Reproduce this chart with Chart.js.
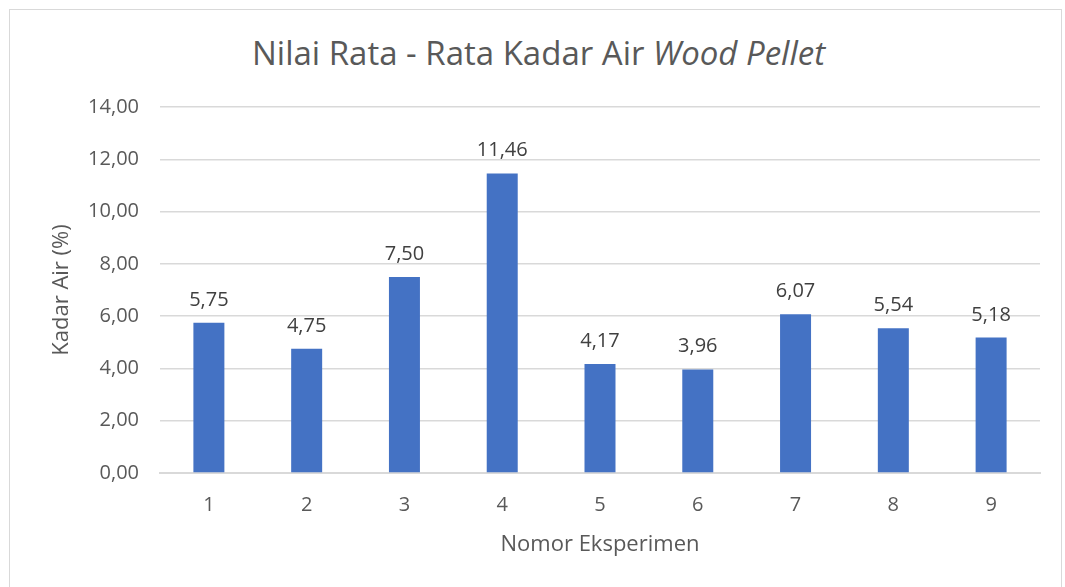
<!DOCTYPE html>
<html>
<head>
<meta charset="utf-8">
<script src="https://cdn.jsdelivr.net/npm/chart.js@4/dist/chart.umd.min.js"></script>
<style>
  body { margin: 0; background: #fff; }
  #wrap { position: relative; width: 1065px; height: 587px; }
  #frame { position: absolute; left: 9px; top: 9px; width: 1053px; height: 590px; border: 1px solid #d9d9d9; box-sizing: border-box; }
  #title { position: absolute; left: 0; width: 1077px; top: 30px; text-align: center; font-family: "Open Sans", sans-serif; font-size: 33px; line-height: normal; color: #595959; }
  canvas { position: absolute; left: 0; top: 0; }
</style>
</head>
<body>
<div id="wrap">
  <div id="frame"></div>
  <div id="title">Nilai Rata - Rata Kadar Air <i>Wood Pellet</i></div>
  <canvas id="chart" width="1065" height="587"></canvas>
</div>
<script>
const categories = ['1', '2', '3', '4', '5', '6', '7', '8', '9'];
const kadarAir = [5.75, 4.75, 7.50, 11.46, 4.17, 3.96, 6.07, 5.54, 5.18];
const yMax = 14;
const yStep = 2;

const fmt = v => v.toFixed(2).replace('.', ',');
const FONT = '"Open Sans", sans-serif';

// label nilai di atas batang
const barLabels = {
  id: 'barLabels',
  afterDatasetsDraw(chart) {
    const ctx = chart.ctx;
    const meta = chart.getDatasetMeta(0);
    ctx.save();
    ctx.font = '20px ' + FONT;
    ctx.fillStyle = '#404040';
    ctx.textAlign = 'center';
    ctx.textBaseline = 'alphabetic';
    meta.data.forEach((bar, i) => {
      ctx.fillText(fmt(kadarAir[i]), bar.x, bar.y - 17);
    });
    ctx.restore();
  }
};

new Chart(document.getElementById('chart'), {
  type: 'bar',
  data: {
    labels: categories,
    datasets: [{
      data: kadarAir,
      backgroundColor: '#4472c4',
      barPercentage: 0.317,
      categoryPercentage: 1
    }]
  },
  options: {
    responsive: false,
    animation: false,
    layout: { padding: { left: 10, right: 25, top: 107, bottom: 14 } },
    plugins: { legend: { display: false }, tooltip: { enabled: false } },
    scales: {
      x: {
        grid: { display: false, drawTicks: false },
        border: { color: '#d9d9d9', width: 2 },
        ticks: { color: '#595959', font: { family: FONT, size: 20 }, padding: 20 },
        title: { display: true, text: 'Nomor Eksperimen', color: '#595959', font: { family: FONT, size: 22 }, padding: { top: 0, bottom: 15 } },
        afterFit(s) { s.height = 100; }
      },
      y: {
        min: 0, max: yMax,
        ticks: { stepSize: yStep, color: '#595959', font: { family: FONT, size: 20 }, padding: 21, callback: v => fmt(v) },
        grid: { color: '#d9d9d9', lineWidth: 1.5, drawTicks: false },
        border: { display: false },
        title: { display: true, text: 'Kadar Air (%)', color: '#595959', font: { family: FONT, size: 22 }, padding: { top: 39, bottom: 0 } },
        afterFit(s) { s.width = 150; }
      }
    }
  },
  plugins: [barLabels]
});
</script>
</body>
</html>
